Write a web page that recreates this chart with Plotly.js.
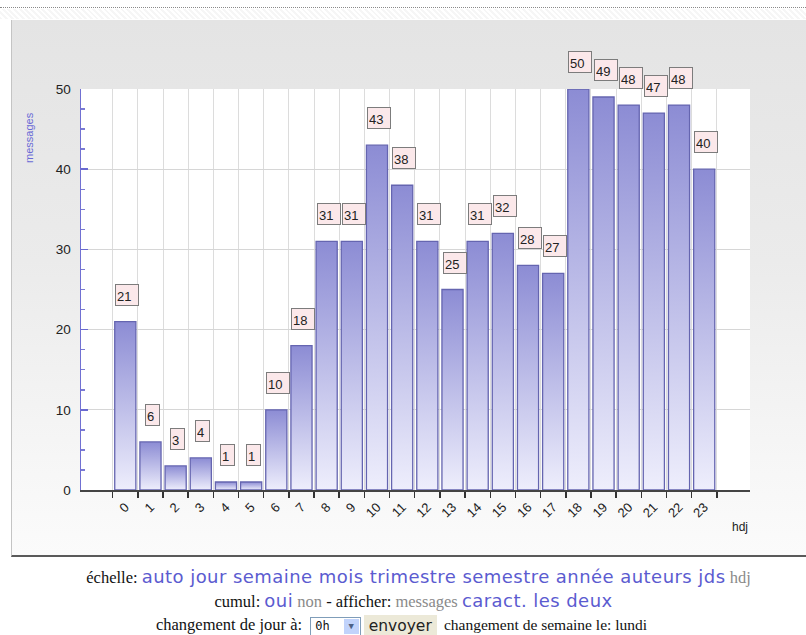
<!DOCTYPE html>
<html>
<head>
<meta charset="utf-8">
<script src="https://cdn.plot.ly/plotly-3.0.1.min.js"></script>
<style>
  html, body { margin:0; padding:0; background:#ffffff; width:806px; height:635px; overflow:hidden; }
  #topline { position:absolute; left:0; top:7px; width:806px; height:0; border-top:1px dotted #8a8a8a; }
  #hatch { position:absolute; left:0; top:9px; width:806px; height:10px;
           background: repeating-linear-gradient(45deg, #f6f6f6 0px, #f6f6f6 2px, #ffffff 2px, #ffffff 4px); }
  #panel { position:absolute; left:11px; top:20px; width:795px; height:535px;
           border-left:1px solid #c4c4c4; border-bottom:2px solid #5a5a5a;
           background: linear-gradient(to bottom, #e4e4e4 0%, #ebebeb 45%, #f7f7f7 85%, #fbfbfb 100%); }
  #chart { position:absolute; left:11px; top:20px; width:795px; height:537px; }
  #links { position:absolute; left:11px; top:565px; width:795px; text-align:center;
           font-family:"Liberation Serif","Times New Roman",serif; font-size:16.5px; color:#111; line-height:23px; }
  #links .l1 { padding-left:20px; }
  #links .l2 { padding-left:10px; }
  #links .l3 { padding-right:14px; }
  .lk { font-family:"DejaVu Sans",Verdana,sans-serif; font-size:18px; letter-spacing:0.45px; color:#5b5bd0; }
  .gr { color:#8a8a8a; }
  .sel { display:inline-block; vertical-align:middle; height:17px; border:1px solid #7f9db9; background:#fff;
         font-family:"DejaVu Sans Mono",monospace; font-size:12px; line-height:17px; padding:0 0 0 4px; margin:0 3px 0 4px; }
  .sel b { display:inline-block; width:15px; height:15px; margin:1px 1px 1px 14px; background:#c1d3fb; color:#4d6185;
           font-size:9px; line-height:15px; text-align:center; vertical-align:top; }
  .btn { display:inline-block; vertical-align:middle; background:#ece9d8; padding:0 5px; height:22px; line-height:22px;
         font-family:"DejaVu Sans",Verdana,sans-serif; font-size:15.5px; color:#222; margin:0 3px 0 0; }
  .l3t { font-size:15.5px; }
</style>
</head>
<body>
<div id="topline"></div>
<div id="hatch"></div>
<div id="panel"></div>
<div id="chart"></div>
<div id="links">
  <div class="l1">échelle: <span class="lk">auto jour semaine mois trimestre semestre année auteurs jds</span> <span class="gr">hdj</span></div>
  <div class="l2">cumul: <span class="lk">oui</span> <span class="gr">non</span> - afficher: <span class="gr">messages</span> <span class="lk">caract. les deux</span></div>
  <div class="l3">changement de jour à: <span class="sel">0h<b>&#9660;</b></span><span class="btn">envoyer</span> <span class="l3t">changement de semaine le: lundi</span></div>
</div>
<script>
const hours = ['0','1','2','3','4','5','6','7','8','9','10','11','12','13','14','15','16','17','18','19','20','21','22','23'];
const messages = [21,6,3,4,1,1,10,18,31,31,43,38,31,25,31,32,28,27,50,49,48,47,48,40];
const xTitle = 'hdj';
const yTitle = 'messages';

const FONT = '"Liberation Sans", Arial, sans-serif';
const halfW = 0.42;
const xRange = [-1.76, 24.82];

const traces = messages.map(function (v, i) {
  return {
    type: 'scatter', mode: 'lines', fill: 'toself',
    x: [i - halfW, i - halfW, i + halfW, i + halfW, i - halfW],
    y: [0, v, v, 0, 0],
    fillgradient: { type: 'vertical', colorscale: [[0, '#eeeefc'], [1, '#8c8cd4']] },
    line: { color: '#6565b0', width: 1.3 },
    hoverinfo: 'skip', showlegend: false, xaxis: 'x', yaxis: 'y'
  };
});
// invisible carrier trace for the label axis
traces.push({ type: 'scatter', mode: 'markers', x: hours.map(function (h, i) { return i; }),
  y: messages, marker: { opacity: 0 }, xaxis: 'x2', yaxis: 'y', hoverinfo: 'skip', showlegend: false });

const boundaries = [];
for (let i = 0; i <= hours.length; i++) boundaries.push(i - 0.5);

const annotations = messages.map(function (v, i) {
  const s = String(v);
  return {
    x: i, y: v, xref: 'x', yref: 'y', text: s, showarrow: false,
    xanchor: 'center', yanchor: 'bottom', xshift: 2, yshift: 16,
    width: s.length * 9 + 2, height: 18, align: 'left', valign: 'bottom',
    bgcolor: '#fbe8ea', bordercolor: '#7c7c7c', borderwidth: 1, borderpad: 1,
    font: { family: FONT, size: 13, color: '#222' }
  };
});
annotations.push({ xref: 'paper', yref: 'paper', x: -0.078, y: 0.88, text: yTitle, textangle: -90,
  showarrow: false, xanchor: 'center', yanchor: 'middle', font: { family: FONT, size: 11, color: '#6a6ad6' } });
annotations.push({ xref: 'paper', yref: 'paper', x: 1, y: -0.092, text: xTitle,
  showarrow: false, xanchor: 'right', yanchor: 'middle', font: { family: FONT, size: 12, color: '#222' } });

const layout = {
  width: 795, height: 537,
  margin: { l: 70, r: 56, t: 69, b: 67, pad: 0 },
  paper_bgcolor: 'rgba(0,0,0,0)', plot_bgcolor: '#ffffff',
  hovermode: false, showlegend: false,
  xaxis: {
    type: 'linear', range: xRange, tickmode: 'array', tickvals: boundaries,
    ticktext: boundaries.map(function () { return ''; }),
    ticks: 'outside', ticklen: 6, tickwidth: 1.5, tickcolor: '#333',
    showline: true, linecolor: '#444', linewidth: 1.5,
    showgrid: true, gridcolor: '#dcdcdc', gridwidth: 1, zeroline: false, fixedrange: true
  },
  xaxis2: {
    type: 'linear', overlaying: 'x', anchor: 'y', side: 'bottom', range: xRange,
    tickmode: 'array', tickvals: hours.map(function (h, i) { return i; }), ticktext: hours,
    tickangle: -45, ticks: '', showline: false, showgrid: false, zeroline: false,
    ticklabelstandoff: 6, tickfont: { family: FONT, size: 13, color: '#222' }, fixedrange: true
  },
  yaxis: {
    range: [0, 50], tick0: 0, dtick: 10, ticks: 'inside', ticklen: 7, tickwidth: 1.5, tickcolor: '#6a6ad0',
    showline: true, linecolor: '#7070d2', linewidth: 1.5,
    showgrid: true, gridcolor: '#d6d6d6', gridwidth: 1, zeroline: false,
    minor: { dtick: 2.5, ticks: 'inside', ticklen: 4, tickcolor: '#7a7ad4', showgrid: false },
    ticklabelstandoff: 6, tickfont: { family: FONT, size: 13.5, color: '#222' }, fixedrange: true
  },
  annotations: annotations
};

Plotly.newPlot('chart', traces, layout, { displayModeBar: false, staticPlot: true });
</script>
</body>
</html>
